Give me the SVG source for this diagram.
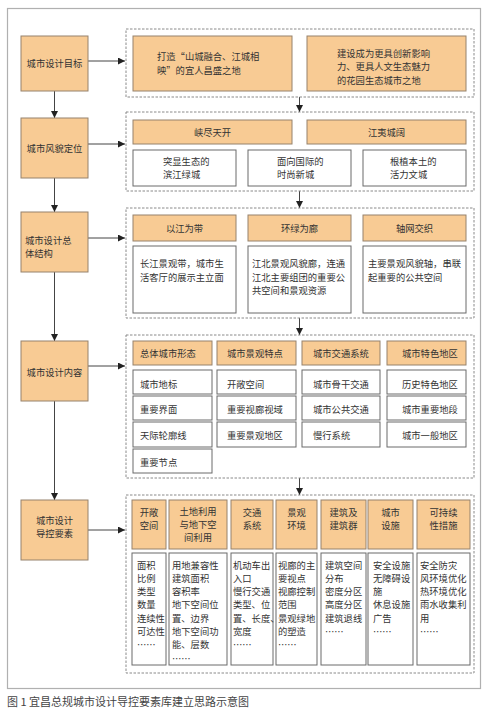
<svg xmlns="http://www.w3.org/2000/svg" width="489" height="710" viewBox="0 0 489 710">
<defs>
<style>
.o{fill:#f8cb94;stroke:#96826c;stroke-width:1}
.w{fill:#ffffff;stroke:#6a6a6a;stroke-width:1}
.d{fill:none;stroke:#8a8a8a;stroke-width:1;stroke-dasharray:2.5,1.5}
.t{font-family:"Noto Sans CJK SC","Noto Sans",sans-serif;font-size:9.3px;fill:#333333}
.c{text-anchor:middle}
.ln{stroke:#444444;stroke-width:1;fill:none}
</style>
<marker id="ah" viewBox="0 0 10 10" refX="10" refY="5" markerWidth="7" markerHeight="7" markerUnits="userSpaceOnUse" orient="auto">
<path d="M0,0 L10,5 L0,10 z" fill="#222222"/>
</marker>
</defs>
<rect x="0" y="0" width="489" height="710" fill="#ffffff"/>
<rect x="7.5" y="8.5" width="473" height="680" fill="none" stroke="#b0b0b0" stroke-width="1.2"/>

<g id="connectors">
<line class="ln" x1="54.5" y1="91" x2="54.5" y2="118" marker-end="url(#ah)"/>
<line class="ln" x1="54.5" y1="178" x2="54.5" y2="212" marker-end="url(#ah)"/>
<line class="ln" x1="54.5" y1="272" x2="54.5" y2="341" marker-end="url(#ah)"/>
<line class="ln" x1="54.5" y1="401" x2="54.5" y2="500" marker-end="url(#ah)"/>
<line class="ln" x1="88" y1="61" x2="125" y2="61" marker-end="url(#ah)"/>
<line class="ln" x1="88" y1="144" x2="125" y2="144" marker-end="url(#ah)"/>
<line class="ln" x1="88" y1="238" x2="125" y2="238" marker-end="url(#ah)"/>
<line class="ln" x1="88" y1="366" x2="125" y2="366" marker-end="url(#ah)"/>
<line class="ln" x1="88" y1="530" x2="125" y2="530" marker-end="url(#ah)"/>
<line class="ln" x1="299.5" y1="97" x2="299.5" y2="112" marker-end="url(#ah)"/>
<line class="ln" x1="299.5" y1="191" x2="299.5" y2="208" marker-end="url(#ah)"/>
<line class="ln" x1="299.5" y1="318" x2="299.5" y2="335" marker-end="url(#ah)"/>
<line class="ln" x1="299.5" y1="478" x2="299.5" y2="495" marker-end="url(#ah)"/>
</g>

<g id="n-goal">
<rect class="o" x="21" y="36" width="67" height="55"/>
<text class="t c" x="54.5" y="66.5">城市设计目标</text>
</g>
<g id="g-goal">
<rect class="d" x="126" y="29" width="348" height="68"/>
<rect class="o" x="133" y="36" width="159" height="55"/>
<text class="t" x="157" y="59.5">打造“山城融合、江城相</text>
<text class="t" x="157" y="73.5">映”的宜人昌盛之地</text>
<rect class="o" x="307" y="36" width="159" height="55"/>
<text class="t" x="337" y="56.5">建设成为更具创新影响</text>
<text class="t" x="337" y="70">力、更具人文生态魅力</text>
<text class="t" x="337" y="83.5">的花园生态城市之地</text>
</g>

<g id="n-style">
<rect class="o" x="21" y="118" width="67" height="60"/>
<text class="t c" x="54.5" y="151.5">城市风貌定位</text>
</g>
<g id="g-style">
<rect class="d" x="126" y="112" width="348" height="79"/>
<rect class="o" x="133" y="120" width="159" height="24"/>
<text class="t c" x="212.5" y="136">峡尽天开</text>
<rect class="o" x="307" y="120" width="159" height="24"/>
<text class="t c" x="386.5" y="136">江夷城阔</text>
<rect class="w" x="133" y="150" width="103" height="36"/>
<text class="t" x="163" y="164.5">突显生态的</text>
<text class="t" x="163" y="177.5">滨江绿城</text>
<rect class="w" x="248" y="150" width="103" height="36"/>
<text class="t" x="277" y="164.5">面向国际的</text>
<text class="t" x="277" y="177.5">时尚新城</text>
<rect class="w" x="363" y="150" width="103" height="36"/>
<text class="t" x="390" y="164.5">根植本土的</text>
<text class="t" x="390" y="177.5">活力文城</text>
</g>

<g id="n-structure">
<rect class="o" x="21" y="212" width="67" height="60"/>
<text class="t" x="25" y="243.5">城市设计总</text>
<text class="t" x="25" y="256.5">体结构</text>
</g>
<g id="g-structure">
<rect class="d" x="126" y="208" width="348" height="110"/>
<rect class="o" x="133" y="215" width="103" height="26"/>
<text class="t c" x="184.5" y="232">以江为带</text>
<rect class="o" x="248" y="215" width="103" height="26"/>
<text class="t c" x="299.5" y="232">环绿为廊</text>
<rect class="o" x="363" y="215" width="103" height="26"/>
<text class="t c" x="414.5" y="232">轴网交织</text>
<rect class="w" x="133" y="246" width="103" height="67"/>
<text class="t" x="140" y="266.5">长江景观带，城市生</text>
<text class="t" x="140" y="280.5">活客厅的展示主立面</text>
<rect class="w" x="248" y="246" width="103" height="67"/>
<text class="t" x="252" y="266.5">江北景观风貌廊，连通</text>
<text class="t" x="252" y="280.5">江北主要组团的重要公</text>
<text class="t" x="252" y="294">共空间和景观资源</text>
<rect class="w" x="363" y="246" width="103" height="67"/>
<text class="t" x="368" y="266.5">主要景观风貌轴，串联</text>
<text class="t" x="368" y="280.5">起重要的公共空间</text>
</g>

<g id="n-content">
<rect class="o" x="21" y="341" width="67" height="60"/>
<text class="t c" x="54.5" y="375.5">城市设计内容</text>
</g>
<g id="g-content">
<rect class="d" x="126" y="335" width="348" height="143"/>
<rect class="o" x="133" y="341" width="79" height="24"/>
<text class="t" x="140" y="356.5">总体城市形态</text>
<rect class="o" x="217" y="341" width="79" height="24"/>
<text class="t" x="227" y="356.5">城市景观特点</text>
<rect class="o" x="302" y="341" width="78" height="24"/>
<text class="t" x="313" y="356.5">城市交通系统</text>
<rect class="o" x="387" y="341" width="79" height="24"/>
<text class="t" x="402" y="356.5">城市特色地区</text>

<rect class="w" x="133" y="370" width="79" height="24"/>
<text class="t" x="140" y="387.5">城市地标</text>
<rect class="w" x="133" y="396" width="79" height="24"/>
<text class="t" x="140" y="412.5">重要界面</text>
<rect class="w" x="133" y="422" width="79" height="25"/>
<text class="t" x="140" y="439">天际轮廓线</text>
<rect class="w" x="133" y="449" width="79" height="24"/>
<text class="t" x="140" y="465.5">重要节点</text>

<rect class="w" x="217" y="370" width="79" height="24"/>
<text class="t" x="227" y="387.5">开敞空间</text>
<rect class="w" x="217" y="396" width="79" height="24"/>
<text class="t" x="227" y="412.5">重要视廊视域</text>
<rect class="w" x="217" y="422" width="79" height="25"/>
<text class="t" x="227" y="439">重要景观地区</text>

<rect class="w" x="302" y="370" width="78" height="24"/>
<text class="t" x="313" y="387.5">城市骨干交通</text>
<rect class="w" x="302" y="396" width="78" height="24"/>
<text class="t" x="313" y="412.5">城市公共交通</text>
<rect class="w" x="302" y="422" width="78" height="25"/>
<text class="t" x="313" y="439">慢行系统</text>

<rect class="w" x="387" y="370" width="79" height="24"/>
<text class="t" x="402" y="387.5">历史特色地区</text>
<rect class="w" x="387" y="396" width="79" height="24"/>
<text class="t" x="402" y="412.5">城市重要地段</text>
<rect class="w" x="387" y="422" width="79" height="25"/>
<text class="t" x="402" y="439">城市一般地区</text>
</g>

<g id="n-elements">
<rect class="o" x="21" y="500" width="67" height="60"/>
<text class="t c" x="54.5" y="523.5">城市设计</text>
<text class="t c" x="54.5" y="536.5">导控要素</text>
</g>
<g id="g-elements">
<rect class="d" x="126" y="495" width="348" height="178"/>
<rect class="o" x="132" y="500" width="34" height="49"/>
<text class="t c" x="149" y="515.5">开敞</text>
<text class="t c" x="149" y="528.5">空间</text>
<rect class="o" x="169" y="500" width="58" height="49"/>
<text class="t c" x="198" y="514.5">土地利用</text>
<text class="t c" x="198" y="527.5">与地下空</text>
<text class="t c" x="198" y="540.5">间利用</text>
<rect class="o" x="231" y="500" width="42" height="49"/>
<text class="t c" x="252" y="515.5">交通</text>
<text class="t c" x="252" y="528.5">系统</text>
<rect class="o" x="276" y="500" width="41" height="49"/>
<text class="t c" x="296.5" y="515.5">景观</text>
<text class="t c" x="296.5" y="528.5">环境</text>
<rect class="o" x="321" y="500" width="45" height="49"/>
<text class="t c" x="343.5" y="515.5">建筑及</text>
<text class="t c" x="343.5" y="528.5">建筑群</text>
<rect class="o" x="368" y="500" width="45" height="49"/>
<text class="t c" x="390.5" y="515.5">城市</text>
<text class="t c" x="390.5" y="528.5">设施</text>
<rect class="o" x="417" y="500" width="53" height="49"/>
<text class="t c" x="443.5" y="515.5">可持续</text>
<text class="t c" x="443.5" y="528.5">性措施</text>

<rect class="w" x="132" y="553" width="34" height="112"/>
<text class="t" x="137" y="568.5">面积</text>
<text class="t" x="137" y="581.8">比例</text>
<text class="t" x="137" y="595.1">类型</text>
<text class="t" x="137" y="608.4">数量</text>
<text class="t" x="137" y="621.7">连续性</text>
<text class="t" x="137" y="635">可达性</text>
<text class="t" x="137" y="648.3">……</text>

<rect class="w" x="169" y="553" width="58" height="112"/>
<text class="t" x="172" y="568.5">用地兼容性</text>
<text class="t" x="172" y="581.8">建筑面积</text>
<text class="t" x="172" y="595.1">容积率</text>
<text class="t" x="172" y="608.4">地下空间位</text>
<text class="t" x="172" y="621.7">置、边界</text>
<text class="t" x="172" y="635">地下空间功</text>
<text class="t" x="172" y="648.3">能、层数</text>
<text class="t" x="172" y="661.6">……</text>

<rect class="w" x="231" y="553" width="42" height="112"/>
<text class="t" x="233" y="568.5">机动车出</text>
<text class="t" x="233" y="581.8">入口</text>
<text class="t" x="233" y="595.1">慢行交通</text>
<text class="t" x="233" y="608.4">类型、位</text>
<text class="t" x="233" y="621.7">置、长度、</text>
<text class="t" x="233" y="635">宽度</text>
<text class="t" x="233" y="648.3">……</text>

<rect class="w" x="276" y="553" width="41" height="112"/>
<text class="t" x="278" y="568.5">视廊的主</text>
<text class="t" x="278" y="581.8">要视点</text>
<text class="t" x="278" y="595.1">视廊控制</text>
<text class="t" x="278" y="608.4">范围</text>
<text class="t" x="278" y="621.7">景观绿地</text>
<text class="t" x="278" y="635">的塑造</text>
<text class="t" x="278" y="648.3">……</text>

<rect class="w" x="321" y="553" width="45" height="112"/>
<text class="t" x="325" y="568.5">建筑空间</text>
<text class="t" x="325" y="581.8">分布</text>
<text class="t" x="325" y="595.1">密度分区</text>
<text class="t" x="325" y="608.4">高度分区</text>
<text class="t" x="325" y="621.7">建筑退线</text>
<text class="t" x="325" y="635">……</text>

<rect class="w" x="368" y="553" width="45" height="112"/>
<text class="t" x="373" y="568.5">安全设施</text>
<text class="t" x="373" y="581.8">无障碍设</text>
<text class="t" x="373" y="595.1">施</text>
<text class="t" x="373" y="608.4">休息设施</text>
<text class="t" x="373" y="621.7">广告</text>
<text class="t" x="373" y="635">……</text>

<rect class="w" x="417" y="553" width="53" height="112"/>
<text class="t" x="420" y="568.5">安全防灾</text>
<text class="t" x="420" y="581.8">风环境优化</text>
<text class="t" x="420" y="595.1">热环境优化</text>
<text class="t" x="420" y="608.4">雨水收集利</text>
<text class="t" x="420" y="621.7">用</text>
<text class="t" x="420" y="635">……</text>
</g>

<text x="7" y="706" font-family="&quot;Noto Sans CJK SC&quot;,&quot;Noto Sans&quot;,sans-serif" font-size="11" fill="#444444">图 1 宜昌总规城市设计导控要素库建立思路示意图</text>
</svg>
